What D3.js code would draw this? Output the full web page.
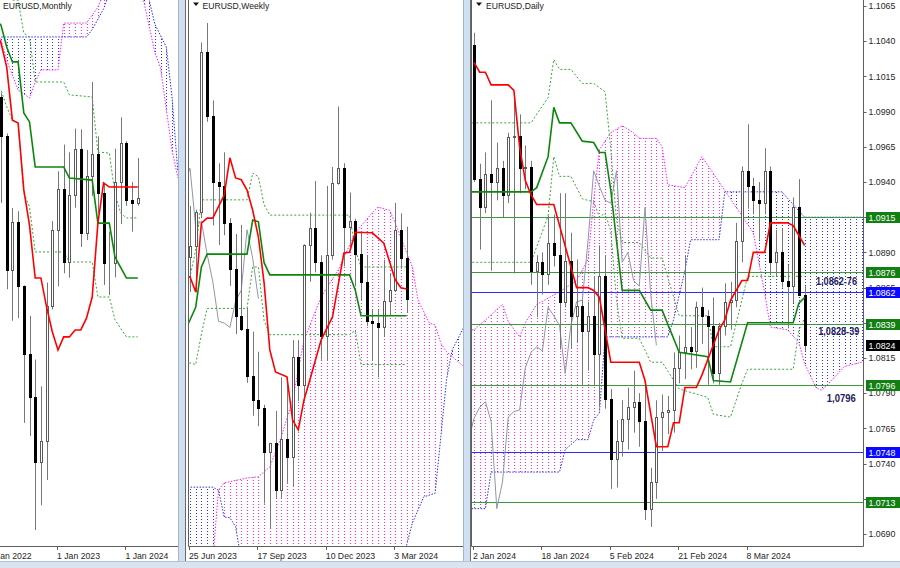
<!DOCTYPE html>
<html>
<head>
<meta charset="utf-8">
<script src="https://cdn.jsdelivr.net/npm/d3@7/dist/d3.min.js"></script>
<style>
  html, body { margin:0; padding:0; background:#ffffff; overflow:hidden; }
  svg { display:block; }
  text { font-family: "Liberation Sans", Arial, sans-serif; }
</style>
</head>
<body>
<script>
// ================= DATA =================
// ---- Monthly (bar 0 = Jan 2023) ----
const monthlyStart = -12; // first candle = Jan 2022
const monthlyCandles = [
[1.1370,1.1483,1.1121,1.1234],[1.1234,1.1495,1.1106,1.1219],[1.1219,1.1233,1.0806,1.1067],
[1.1067,1.1076,1.0471,1.0545],[1.0545,1.0787,1.0349,1.0733],[1.0733,1.0774,1.0359,1.0484],
[1.0484,1.0486,0.9952,1.0221],[1.0221,1.0368,0.9901,1.0054],[1.0054,1.0198,0.9536,0.9801],
[0.9801,1.0094,0.9632,0.9880],[0.9880,1.0497,0.9730,1.0405],[1.0405,1.0736,1.0393,1.0703],
[1.0703,1.0929,1.0482,1.0862],[1.0862,1.1033,1.0533,1.0576],[1.0576,1.1003,1.0516,1.0839],
[1.0839,1.1095,1.0788,1.1017],[1.1017,1.1092,1.0635,1.0690],[1.0690,1.1012,1.0662,1.0910],
[1.0910,1.1276,1.0834,1.0998],[1.0998,1.1065,1.0766,1.0844],[1.0844,1.0882,1.0488,1.0573],
[1.0573,1.0695,1.0448,1.0574],[1.0574,1.1017,1.0517,1.0888],[1.0888,1.1139,1.0724,1.1039],
[1.1039,1.1046,1.0795,1.0818],[1.0818,1.0888,1.0695,1.0806],[1.0806,1.0981,1.0796,1.0824]
];
const monthlyTenkan = [[-11,1.1480],[-10,1.1427],[-9,1.1334],[-8,1.1128],[-7,1.1117],[-6,1.0857],[-5,1.0720],[-4,1.0515],[-3,1.0515],[-2,1.0402],[-1,1.0306],[0,1.0235],[1,1.0286],[2,1.0286],[3,1.0313],[4,1.0313],[5,1.0359],[6,1.0441],[7,1.0728],[8,1.0884],[9,1.0868],[14,1.0868]];
const monthlyKijun = [[-11,1.1520],[-10,1.1497],[-9,1.1412],[-8,1.1354],[-7,1.1354],[-6,1.1156],[-5,1.1121],[-4,1.0946],[1,1.0946],[2,1.0903],[6,1.0895],[7,1.0728],[9,1.0728],[10,1.0596],[12,1.0515],[14,1.0515]];
const monthlyUpper = [[-11,1.1800],[-8,1.1594],[-7,1.1594],[-6,1.1466],[-5,1.1450],[-4,1.1276],[1,1.1276],[2,1.1226],[6,1.1218],[7,1.1004],[9,1.1000],[10,1.0841],[11,1.0767],[12,1.0748],[14,1.0748]];
const monthlyLower = [[-11,1.1260],[-10,1.1245],[-9,1.1180],[-8,1.1128],[-7,1.1117],[-6,1.0845],[-5,1.0791],[-4,1.0616],[1,1.0616],[2,1.0577],[6,1.0577],[7,1.0441],[9,1.0441],[10,1.0352],[12,1.0286],[14,1.0286]];
const monthlySpanA = [[-11,1.1480],[-10,1.1439],[-9,1.1361],[-8,1.1303],[-7,1.1245],[-5,1.1214],[-4,1.1276],[-3,1.1323],[0,1.1323],[1,1.1505],[5,1.1505],[7,1.1567],[9,1.1672],[14,1.1680],[15,1.1594],[17,1.1390],[18,1.1330],[20,1.1012],[21,1.0907],[23,1.0800]];
const monthlySpanB = [[-11,1.1451],[5,1.1451],[6,1.1480],[8,1.1560],[9,1.1620],[14,1.1750],[15,1.1700],[16,1.1594],[17,1.1500],[19,1.1412],[20,1.1218],[21,1.0934],[23,1.0850]];
const monthlyDates = ["1 Jan 2022","1 Jan 2023","1 Jan 2024"];
const monthlyDateBars = [-12,0,12];

// ---- Weekly (bar 0 = 25 Jun 2023) ----
const weeklyStart = 0;
const weeklyCandles = [
[1.0893,1.0976,1.0835,1.0910],[1.0911,1.0970,1.0834,1.0966],[1.0966,1.1244,1.0956,1.1228],
[1.1228,1.1276,1.1114,1.1124],[1.1124,1.1149,1.0944,1.1016],[1.1016,1.1046,1.0912,1.1008],
[1.1008,1.1064,1.0928,1.0948],[1.0948,1.0956,1.0845,1.0873],[1.0873,1.0930,1.0766,1.0795],
[1.0795,1.0945,1.0771,1.0775],[1.0775,1.0809,1.0686,1.0698],[1.0698,1.0770,1.0632,1.0658],
[1.0658,1.0737,1.0615,1.0644],[1.0644,1.0650,1.0488,1.0573],[1.0573,1.0587,1.0448,1.0588],
[1.0588,1.0640,1.0496,1.0510],[1.0510,1.0695,1.0497,1.0594],[1.0594,1.0695,1.0522,1.0565],
[1.0565,1.0756,1.0516,1.0728],[1.0728,1.0756,1.0656,1.0683],[1.0683,1.0913,1.0656,1.0912],
[1.0912,1.0965,1.0852,1.0940],[1.0940,1.1017,1.0867,1.0884],[1.0884,1.0895,1.0724,1.0762],
[1.0762,1.1009,1.0723,1.0895],[1.0895,1.1040,1.0888,1.1013],[1.1013,1.1139,1.1011,1.1038],
[1.1038,1.1046,1.0877,1.0942],[1.0942,1.0998,1.0909,1.0951],[1.0951,1.0955,1.0844,1.0897],
[1.0897,1.0932,1.0821,1.0852],[1.0852,1.0895,1.0779,1.0787],[1.0787,1.0806,1.0722,1.0784],
[1.0784,1.0806,1.0695,1.0777],[1.0777,1.0888,1.0761,1.0820],[1.0820,1.0865,1.0796,1.0838],
[1.0838,1.0981,1.0835,1.0937],[1.0937,1.0964,1.0873,1.0890],[1.0890,1.0942,1.0802,1.0824]
];
const weeklyTenkan = [[-1,1.0860],[0,1.0860],[1,1.0835],[2,1.0948],[3,1.0956],[4,1.0956],[6,1.0994],[7,1.1055],[8,1.1022],[9,1.1019],[10,1.1002],[11,1.0969],[12,1.0925],[13,1.0850],[14,1.0740],[15,1.0704],[17,1.0696],[18,1.0625],[19,1.0609],[20,1.0658],[21,1.0690],[23,1.0756],[25,1.0794],[27,1.0899],[28,1.0900],[29,1.0933],[32,1.0932],[34,1.0915],[36,1.0855],[37,1.0842],[38,1.0840]];
const weeklyKijun = [[-1,1.0770],[0,1.0789],[1,1.0810],[2,1.0876],[3,1.0897],[10,1.0897],[11,1.0953],[12,1.0950],[13,1.0883],[14,1.0863],[28,1.0863],[29,1.0838],[30,1.0796],[38,1.0796]];
const weeklyUpper = [[-1,1.0840],[0,1.0860],[1,1.0904],[2,1.0986],[10,1.0986],[11,1.1030],[12,1.1024],[13,1.0978],[14,1.0961],[28,1.0961],[29,1.0904],[30,1.0876],[38,1.0876]];
const weeklyLower = [[-1,1.0700],[0,1.0719],[1,1.0716],[2,1.0766],[3,1.0808],[10,1.0808],[11,1.0876],[12,1.0876],[13,1.0788],[14,1.0765],[28,1.0765],[29,1.0772],[30,1.0716],[38,1.0716]];
const weeklySpanA = [[-2,1.0396],[4,1.0396],[5,1.0510],[6,1.0522],[10,1.0530],[12,1.0532],[14,1.0548],[16,1.0597],[18,1.0658],[20,1.0756],[23,1.0827],[26,1.0871],[29,1.0932],[32,1.0965],[33,1.0974],[35,1.0969],[36,1.0948],[39,1.0876],[40,1.0822],[42,1.0784],[43,1.0781],[44,1.0751],[45,1.0737],[49,1.0705]];
const weeklySpanB = [[-2,1.0515],[4,1.0515],[5,1.0510],[6,1.0466],[7,1.0465],[8,1.0450],[9,1.0395],[37,1.0395],[38,1.0420],[39,1.0456],[41,1.0499],[43,1.0505],[44,1.0597],[45,1.0691],[46,1.0740],[49,1.0795]];
const weeklyDates = ["25 Jun 2023","17 Sep 2023","10 Dec 2023","3 Mar 2024"];
const weeklyDateBars = [0,12,24,36];

// ---- Daily (bar 0 = 2 Jan 2024) ----
const dailyStart = 0;
const dailyCandles = [
[1.1037,1.1046,1.0940,1.0942],[1.0942,1.0953,1.0892,1.0922],[1.0922,1.0961,1.0918,1.0946],
[1.0946,1.0998,1.0877,1.0940],[1.0940,1.0968,1.0927,1.0950],[1.0950,1.0955,1.0915,1.0931],
[1.0931,1.0975,1.0925,1.0972],[1.0972,1.0998,1.0875,1.0973],[1.0973,1.0988,1.0932,1.0950],
[1.0950,1.0966,1.0935,1.0951],[1.0951,1.0955,1.0867,1.0877],[1.0877,1.0888,1.0844,1.0883],
[1.0883,1.0890,1.0860,1.0875],[1.0875,1.0916,1.0867,1.0897],[1.0897,1.0917,1.0880,1.0888],
[1.0888,1.0932,1.0821,1.0855],[1.0855,1.0932,1.0851,1.0884],[1.0884,1.0904,1.0822,1.0845],
[1.0845,1.0885,1.0826,1.0852],[1.0852,1.0856,1.0795,1.0834],[1.0834,1.0855,1.0806,1.0845],
[1.0845,1.0873,1.0796,1.0818],[1.0818,1.0895,1.0780,1.0873],[1.0873,1.0888,1.0779,1.0786],
[1.0786,1.0793,1.0722,1.0743],[1.0743,1.0771,1.0723,1.0756],[1.0756,1.0785,1.0745,1.0772],
[1.0772,1.0794,1.0750,1.0780],[1.0780,1.0806,1.0762,1.0784],[1.0784,1.0790,1.0752,1.0770],
[1.0770,1.0795,1.0700,1.0708],[1.0708,1.0737,1.0695,1.0727],[1.0727,1.0785,1.0715,1.0773],
[1.0773,1.0789,1.0749,1.0777],[1.0777,1.0788,1.0761,1.0778],[1.0778,1.0819,1.0762,1.0808],
[1.0808,1.0831,1.0797,1.0819],[1.0819,1.0888,1.0800,1.0823],[1.0823,1.0837,1.0807,1.0820],
[1.0820,1.0855,1.0808,1.0851],[1.0851,1.0865,1.0825,1.0845],[1.0845,1.0849,1.0796,1.0838],
[1.0838,1.0858,1.0797,1.0804],[1.0804,1.0840,1.0796,1.0838],[1.0838,1.0868,1.0831,1.0855],
[1.0855,1.0869,1.0835,1.0856],[1.0856,1.0911,1.0851,1.0898],[1.0898,1.0951,1.0883,1.0948],
[1.0948,1.0981,1.0921,1.0937],[1.0937,1.0943,1.0917,1.0927],[1.0927,1.0940,1.0899,1.0925],
[1.0925,1.0964,1.0917,1.0948],[1.0948,1.0951,1.0874,1.0883],[1.0883,1.0906,1.0873,1.0890],
[1.0890,1.0907,1.0865,1.0870],[1.0870,1.0881,1.0836,1.0866],[1.0866,1.0929,1.0854,1.0922],
[1.0922,1.0942,1.0859,1.0860],[1.0860,1.0866,1.0820,1.0824]
];
const dailyTenkan = [[0,1.1025],[1,1.1018],[2,1.1018],[3,1.1009],[6,1.1009],[7,1.1005],[8,1.0965],[9,1.0941],[10,1.0931],[11,1.0924],[14,1.0924],[18,1.0865],[20,1.0865],[21,1.0863],[22,1.0858],[24,1.0812],[29,1.0812],[30,1.0799],[32,1.0752],[34,1.0752],[35,1.0769],[36,1.0769],[37,1.0794],[39,1.0794],[40,1.0803],[43,1.0835],[44,1.0842],[45,1.0856],[47,1.0870],[48,1.0870],[49,1.0890],[51,1.0890],[52,1.0911],[55,1.0911],[56,1.0909],[57,1.0902],[58,1.0895]];
const dailyKijun = [[-1,1.0933],[10,1.0933],[11,1.0936],[13,1.0958],[14,1.0993],[15,1.0982],[17,1.0982],[19,1.0969],[21,1.0968],[22,1.0961],[23,1.0961],[24,1.0934],[26,1.0863],[29,1.0863],[31,1.0849],[33,1.0849],[36,1.0819],[41,1.0816],[42,1.0799],[45,1.0798],[48,1.0840],[56,1.0840],[57,1.0854],[58,1.0858]];
const dailyUpper = [[-1,1.0982],[10,1.0982],[13,1.1000],[14,1.1027],[15,1.1020],[17,1.1020],[19,1.1010],[21,1.1010],[22,1.1007],[23,1.1004],[24,1.0963],[25,1.0913],[26,1.0897],[29,1.0897],[31,1.0886],[33,1.0886],[36,1.0845],[41,1.0845],[42,1.0823],[45,1.0823],[48,1.0873],[58,1.0873]];
const dailyLower = [[-1,1.0883],[10,1.0883],[13,1.0916],[14,1.0958],[15,1.0944],[17,1.0944],[19,1.0928],[21,1.0926],[22,1.0915],[23,1.0918],[24,1.0905],[25,1.0856],[26,1.0829],[29,1.0829],[31,1.0812],[33,1.0812],[36,1.0793],[41,1.0787],[42,1.0775],[45,1.0773],[47,1.0797],[48,1.0807],[56,1.0807],[57,1.0835],[58,1.0843]];
const dailySpanA = [[-2,1.0835],[0,1.0835],[2,1.0842],[5,1.0853],[6,1.0841],[8,1.0830],[9,1.0840],[11,1.0853],[15,1.0862],[18,1.0870],[20,1.0885],[21,1.0927],[22,1.0963],[24,1.0975],[26,1.0980],[28,1.0975],[29,1.0971],[32,1.0971],[33,1.0965],[34,1.0938],[37,1.0936],[40,1.0958],[43,1.0940],[44,1.0934],[49,1.0904],[51,1.0861],[52,1.0837],[55,1.0835],[57,1.0826],[58,1.0811],[60,1.0794],[61,1.0792],[62,1.0796],[65,1.0809],[70,1.0814]];
const dailySpanB = [[-2,1.0708],[2,1.0708],[3,1.0734],[15,1.0734],[16,1.0750],[18,1.0757],[20,1.0757],[21,1.0771],[22,1.0776],[23,1.0830],[34,1.0830],[35,1.0842],[37,1.0877],[38,1.0899],[43,1.0899],[44,1.0933],[54,1.0933],[56,1.0924],[58,1.0915],[70,1.0915]];
const dailyDates = ["2 Jan 2024","18 Jan 2024","5 Feb 2024","21 Feb 2024","8 Mar 2024"];
const dailyDateBars = [0,12,24,36,48];
const dailyPriceTicks = [1.1065,1.1040,1.1015,1.0990,1.0965,1.0940,1.0915,1.0890,1.0865,1.0840,1.0815,1.0790,1.0765,1.0740,1.0715,1.0690];
const dailyLevels = [1.0915,1.0876,1.0862,1.0839,1.0796,1.0748,1.0713];
const dailyLevelKinds = ["green","green","blue","green","green","blue","green"];
const currentPrice = 1.0824;
const noteTexts = ["1,0862-76","1,0828-39","1,0796"];
const noteBars = [60,60.4,61.9];
const notePrices = [1.0867,1.0831,1.0784];

// ================= LAYOUT / STYLE =================
const PB = 546;
const PINK = "#ff22ff", BLUE = "#2a2aff", RED = "#ff0000", KIJ = "#0b870b", DOTG = "#38a838", CHIK = "#8e97a8";
const LEVEL_STROKE = {green:"#3a9a3a", blue:"#2a2aff"};
const LEVEL_FILL = {green:"#137f13", blue:"#0a0aff"};

const layouts = {
  monthly:{id:"m", left:0, right:178.5, xDom:[0,12], xRng:[58,126.4], yDom:[0.9536,1.1276], yRng:[530,82]},
  weekly:{id:"w", left:188.5, right:463.5, xDom:[0,36], xRng:[190,395.2], yDom:[1.0448,1.1276], yRng:[528,23]},
  daily:{id:"d", left:471.5, right:863.5, xDom:[0,48], xRng:[474,747.6], yDom:[1.0690,1.1065], yRng:[534,6]}
};

const svg = d3.select("body").append("svg").attr("width",900).attr("height",568);
const defs = svg.append("defs");
svg.append("rect").attr("width",900).attr("height",568).attr("fill","#ffffff");

function drawPanel(L, D){
  const x = d3.scaleLinear().domain(L.xDom).range(L.xRng);
  const y = d3.scaleLinear().domain(L.yDom).range(L.yRng);
  const cx = i => Math.round(x(i)) + 0.5;
  const cid = "clip-" + L.id;
  defs.append("clipPath").attr("id",cid).append("rect")
    .attr("x",L.left).attr("y",0).attr("width",L.right-L.left).attr("height",PB);
  const g = svg.append("g").attr("clip-path",`url(#${cid})`);

  // cloud clip regions
  const TOP=-60, BOT=PB+60;
  const mk = (name, arr, below) => {
    const a = d3.area().x(d=>x(d[0])).y0(d=>y(d[1])).y1(below?BOT:TOP);
    defs.append("clipPath").attr("id",L.id+name).append("path").attr("d",a(arr));
  };
  mk("belowA",D.spanA,true); mk("aboveA",D.spanA,false);
  mk("belowB",D.spanB,true); mk("aboveB",D.spanB,false);
  const i0 = Math.ceil(x.invert(L.left)), i1 = Math.floor(x.invert(L.right));
  const cols = d3.range(i0, i1+1);
  const hatch = (c1,c2,color) => g.append("g").attr("clip-path",`url(#${L.id}${c1})`)
    .append("g").attr("clip-path",`url(#${L.id}${c2})`)
    .selectAll("line").data(cols).join("line")
    .attr("x1",cx).attr("x2",cx).attr("y1",0).attr("y2",PB)
    .attr("stroke",color).attr("stroke-width",1).attr("stroke-dasharray","1,2");
  hatch("belowA","aboveB",PINK);
  hatch("aboveA","belowB",BLUE);

  const line = d3.line().x(d=>x(d[0])).y(d=>y(d[1]));
  g.append("path").attr("d",line(D.spanA)).attr("fill","none").attr("stroke",PINK).attr("stroke-width",1).attr("stroke-dasharray","1.5,1.5");
  g.append("path").attr("d",line(D.spanB)).attr("fill","none").attr("stroke",BLUE).attr("stroke-width",1).attr("stroke-dasharray","1.5,1.5");

  // horizontal levels (daily)
  if (D.levels){
    g.selectAll("line.lvl").data(D.levels).join("line").attr("class","lvl")
      .attr("x1",L.left).attr("x2",L.right)
      .attr("y1",v=>Math.round(y(v))+0.5).attr("y2",v=>Math.round(y(v))+0.5)
      .attr("stroke",(v,i)=>LEVEL_STROKE[D.levelKinds[i]]).attr("stroke-width",1);
  }

  // chikou
  const chik = D.candles.map((c,i)=>[i + D.start - 26, c[3]]);
  g.append("path").attr("d",line(chik)).attr("fill","none").attr("stroke",CHIK).attr("stroke-width",1);

  // dotted green bands
  [D.upper, D.lower].forEach(arr=>{
    g.append("path").attr("d",line(arr)).attr("fill","none").attr("stroke",DOTG).attr("stroke-width",1).attr("stroke-dasharray","2,2");
  });

  // candles
  const cg = g.append("g");
  const bars = D.candles.map((c,i)=>({i:i+D.start,o:c[0],h:c[1],l:c[2],c:c[3]}));
  cg.selectAll("line.wick").data(bars).join("line").attr("class","wick")
    .attr("x1",d=>cx(d.i)).attr("x2",d=>cx(d.i))
    .attr("y1",d=>y(d.h)).attr("y2",d=>y(d.l))
    .attr("stroke","#777777").attr("stroke-width",1);
  cg.selectAll("rect.body").data(bars).join("rect").attr("class","body")
    .attr("x",d=>cx(d.i)-1).attr("width",2)
    .attr("y",d=>Math.round(y(Math.max(d.o,d.c)))+0.5)
    .attr("height",d=>Math.max(0, Math.round(y(Math.min(d.o,d.c))) - Math.round(y(Math.max(d.o,d.c)))))
    .attr("fill",d=>d.c<d.o?"#000000":"#ffffff")
    .attr("stroke",d=>d.c<d.o?"#000000":"#5a5a5a").attr("stroke-width",1);

  // kijun, tenkan
  g.append("path").attr("d",line(D.kijun)).attr("fill","none").attr("stroke",KIJ).attr("stroke-width",1.6);
  g.append("path").attr("d",line(D.tenkan)).attr("fill","none").attr("stroke",RED).attr("stroke-width",1.6);

  // date axis
  const ax = svg.append("g");
  ax.append("line").attr("x1",L.left).attr("x2",L.right).attr("y1",PB+0.5).attr("y2",PB+0.5).attr("stroke","#5f5f5f");
  if (L.id!=="m") ax.append("line").attr("x1",L.left).attr("x2",L.left).attr("y1",0).attr("y2",PB+0.5).attr("stroke","#5f5f5f");
  ax.selectAll("line.tk").data(D.dateBars).join("line").attr("class","tk")
    .attr("x1",i=>Math.round(x(i))-0.5).attr("x2",i=>Math.round(x(i))-0.5)
    .attr("y1",PB).attr("y2",PB+4).attr("stroke","#5f5f5f");
  ax.selectAll("text.dt").data(D.dateBars).join("text").attr("class","dt")
    .attr("x",i=>x(i)-1).attr("y",558.5)
    .attr("font-size","8.7px").attr("fill","#262626")
    .text((i,k)=>D.dates[k]);

  return {x,y};
}

drawPanel(layouts.monthly,{start:monthlyStart,candles:monthlyCandles,tenkan:monthlyTenkan,kijun:monthlyKijun,upper:monthlyUpper,lower:monthlyLower,spanA:monthlySpanA,spanB:monthlySpanB,dates:monthlyDates,dateBars:monthlyDateBars});
drawPanel(layouts.weekly,{start:weeklyStart,candles:weeklyCandles,tenkan:weeklyTenkan,kijun:weeklyKijun,upper:weeklyUpper,lower:weeklyLower,spanA:weeklySpanA,spanB:weeklySpanB,dates:weeklyDates,dateBars:weeklyDateBars});
const ds = drawPanel(layouts.daily,{start:dailyStart,candles:dailyCandles,tenkan:dailyTenkan,kijun:dailyKijun,upper:dailyUpper,lower:dailyLower,spanA:dailySpanA,spanB:dailySpanB,dates:dailyDates,dateBars:dailyDateBars,levels:dailyLevels,levelKinds:dailyLevelKinds});

// daily price axis
const Ld = layouts.daily;
const pa = svg.append("g");
const boxes = dailyLevels.map((v,i)=>({v, fill:LEVEL_FILL[dailyLevelKinds[i]]})).concat([{v:currentPrice, fill:"#000000"}]);
// tick labels fully covered by a level box are not drawn (they are hidden in the original too)
const visibleTicks = dailyPriceTicks.filter(t => !boxes.some(b => Math.abs(ds.y(t) - ds.y(b.v)) < 4));
pa.append("line").attr("x1",Ld.right).attr("x2",Ld.right).attr("y1",0).attr("y2",PB+0.5).attr("stroke","#5f5f5f");
pa.selectAll("line.pt").data(dailyPriceTicks).join("line").attr("class","pt")
  .attr("x1",Ld.right).attr("x2",Ld.right+3)
  .attr("y1",v=>Math.round(ds.y(v))+0.5).attr("y2",v=>Math.round(ds.y(v))+0.5).attr("stroke","#5f5f5f");
pa.selectAll("text.pt").data(visibleTicks).join("text").attr("class","pt")
  .attr("x",Ld.right+5).attr("y",v=>ds.y(v)+3.2)
  .attr("font-size","8.8px").attr("fill","#262626")
  .text(v=>d3.format(".4f")(v));
// level labels
pa.selectAll("rect.lb").data(boxes).join("rect").attr("class","lb")
  .attr("x",Ld.right+2.5).attr("width",36).attr("y",d=>Math.round(ds.y(d.v))-5).attr("height",11)
  .attr("fill",d=>d.fill);
pa.selectAll("text.lb").data(boxes).join("text").attr("class","lb")
  .attr("x",Ld.right+5).attr("y",d=>Math.round(ds.y(d.v))+3.8)
  .attr("font-size","8.8px").attr("fill","#ffffff")
  .text(d=>d3.format(".4f")(d.v));

// notes
const noteW = [41,41,29];
svg.selectAll("text.note").data(noteTexts).join("text").attr("class","note")
  .attr("x",(t,i)=>ds.x(noteBars[i])).attr("y",(t,i)=>ds.y(notePrices[i]))
  .attr("font-family","'Liberation Serif','Times New Roman',serif").attr("font-weight","bold")
  .attr("font-size","11px").attr("fill","#1b1b5a")
  .attr("textLength",(t,i)=>noteW[i]).attr("lengthAdjust","spacingAndGlyphs")
  .text(t=>t);

// headers
const hdr = svg.append("g").attr("font-size","8.6px").attr("fill","#1a1a1a");
hdr.append("text").attr("x",3).attr("y",8.5).text("EURUSD,Monthly");
hdr.append("path").attr("d","M193,2.5 L199,2.5 L196,6 Z").attr("fill","#111");
hdr.append("text").attr("x",202.5).attr("y",8.5).text("EURUSD,Weekly");
hdr.append("path").attr("d","M476,2.5 L482,2.5 L479,6 Z").attr("fill","#111");
hdr.append("text").attr("x",486).attr("y",8.5).text("EURUSD,Daily");

// separators & bottom strip
[[179,178.5,185.5],[464,463.5,470.5]].forEach(s=>{
  svg.append("rect").attr("x",s[0]).attr("y",0).attr("width",6).attr("height",562).attr("fill","#cfe0f3");
  svg.append("line").attr("x1",s[1]).attr("x2",s[1]).attr("y1",0).attr("y2",562).attr("stroke","#a8b4c4");
  svg.append("line").attr("x1",s[2]).attr("x2",s[2]).attr("y1",0).attr("y2",562).attr("stroke","#6a6a6a");
});
svg.append("rect").attr("x",0).attr("y",562).attr("width",900).attr("height",6).attr("fill","#dae4f0");
svg.append("line").attr("x1",0).attr("x2",900).attr("y1",561.5).attr("y2",561.5).attr("stroke","#b4c2d4");
</script>
</body>
</html>
